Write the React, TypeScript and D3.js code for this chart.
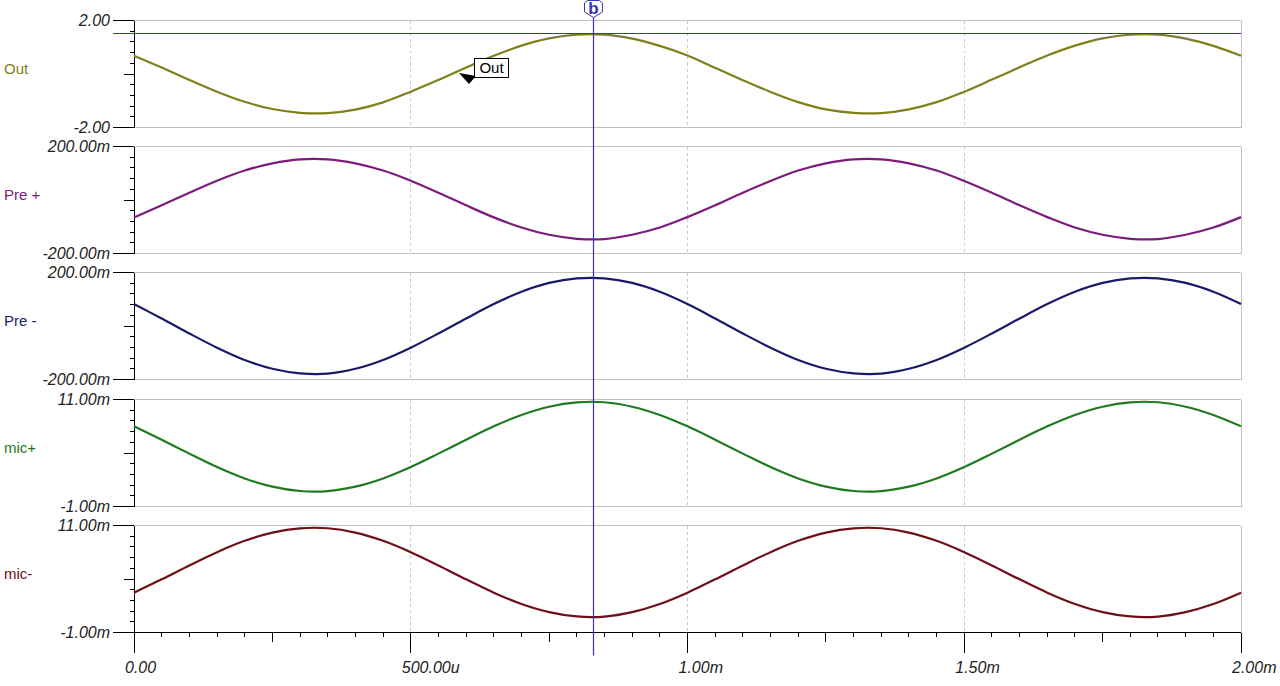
import React from 'react';
import * as d3 from 'd3';

// sample times, ms
const TIME_MS = [
  0, 0.05, 0.1, 0.15, 0.2, 0.25, 0.3, 0.35, 0.4, 0.45,
  0.5, 0.55, 0.6, 0.65, 0.7, 0.75, 0.8, 0.85, 0.9, 0.95,
  1.0, 1.05, 1.1, 1.15, 1.2, 1.25, 1.3, 1.35, 1.4, 1.45,
  1.5, 1.55, 1.6, 1.65, 1.7, 1.75, 1.8, 1.85, 1.9, 1.95, 2.0,
];

// volts
const OUT = [
  0.68, 0.24, -0.22, -0.66, -1.04, -1.31, -1.45, -1.46, -1.33, -1.06,
  -0.66, -0.22, 0.24, 0.68, 1.06, 1.33, 1.47, 1.47, 1.32, 1.05,
  0.69, 0.23, -0.23, -0.67, -1.05, -1.32, -1.45, -1.46, -1.32, -1.05,
  -0.66, -0.21, 0.25, 0.69, 1.06, 1.33, 1.47, 1.47, 1.32, 1.05, 0.68,
];

const PRE_PLUS = [
  -0.065, -0.020, 0.027, 0.072, 0.110, 0.137, 0.152, 0.152, 0.137, 0.110,
  0.072, 0.027, -0.020, -0.065, -0.103, -0.130, -0.145, -0.146, -0.130, -0.103,
  -0.064, -0.020, 0.027, 0.071, 0.110, 0.137, 0.152, 0.152, 0.137, 0.110,
  0.071, 0.027, -0.020, -0.064, -0.103, -0.130, -0.145, -0.146, -0.130, -0.103, -0.064,
];

const PRE_MINUS = [
  0.082, 0.028, -0.028, -0.081, -0.127, -0.160, -0.177, -0.178, -0.160, -0.127,
  -0.081, -0.028, 0.028, 0.082, 0.128, 0.161, 0.178, 0.178, 0.161, 0.128,
  0.082, 0.028, -0.028, -0.081, -0.127, -0.160, -0.177, -0.178, -0.160, -0.127,
  -0.081, -0.028, 0.028, 0.082, 0.128, 0.161, 0.178, 0.178, 0.161, 0.128, 0.082,
];

const MIC_PLUS = [
  0.00799, 0.00649, 0.00493, 0.00343, 0.00215, 0.00123, 0.00074, 0.00073, 0.00123, 0.00215,
  0.00343, 0.00493, 0.00649, 0.00799, 0.00927, 0.01019, 0.01068, 0.01069, 0.01019, 0.00927,
  0.00799, 0.00649, 0.00493, 0.00343, 0.00215, 0.00123, 0.00074, 0.00073, 0.00123, 0.00215,
  0.00343, 0.00493, 0.00649, 0.00799, 0.00927, 0.01019, 0.01068, 0.01069, 0.01019, 0.00927, 0.00799,
];

const MIC_MINUS = [
  0.00347, 0.00496, 0.00652, 0.00801, 0.00928, 0.01020, 0.01068, 0.01069, 0.01020, 0.00928,
  0.00801, 0.00652, 0.00496, 0.00347, 0.00220, 0.00129, 0.00080, 0.00079, 0.00129, 0.00220,
  0.00347, 0.00496, 0.00652, 0.00801, 0.00928, 0.01020, 0.01068, 0.01069, 0.01020, 0.00928,
  0.00801, 0.00652, 0.00496, 0.00347, 0.00220, 0.00129, 0.00080, 0.00079, 0.00129, 0.00220, 0.00347,
];

const PANEL_NAMES = ['Out', 'Pre +', 'Pre -', 'mic+', 'mic-'];
const PANEL_DOMAINS: [number, number][] = [[-2, 2], [-0.2, 0.2], [-0.2, 0.2], [-0.001, 0.011], [-0.001, 0.011]];
const PANEL_TICK_LABELS: [string, string][] = [
  ['2.00', '-2.00'],
  ['200.00m', '-200.00m'],
  ['200.00m', '-200.00m'],
  ['11.00m', '-1.00m'],
  ['11.00m', '-1.00m'],
];
const PANEL_SERIES = [OUT, PRE_PLUS, PRE_MINUS, MIC_PLUS, MIC_MINUS];

const X_TICK_VALUES = [0, 0.5, 1.0, 1.5, 2.0];
const X_TICK_LABELS = ['0.00', '500.00u', '1.00m', '1.50m', '2.00m'];

const CURSOR_TIME = 0.829; // ms
const CURSOR_LEVEL = 1.49; // V on Out

const COLORS = ['#80801a', '#7d1a7d', '#1a1a6b', '#1e7b1e', '#6e1018'];
const CURSOR_COLOR = '#3535b8';
const FRAME = '#c0c0c0';
const FONT = '"Liberation Sans", Arial, sans-serif';

const W = 1280;
const H = 686;
const LEFT = 134;
const RIGHT = 1241;
const PANEL_TOP = 19.5;
const PANEL_H = 107;
const PANEL_STEP = 126.4;

const App: React.FC = () => {
  const x = d3.scaleLinear().domain([0, 2]).range([LEFT, RIGHT]);
  const gridTimes = [0.5, 1.0, 1.5];
  const minorTimes = d3.range(0, 2.0001, 0.05);

  const panels = PANEL_NAMES.map((name, i) => {
    const top = Math.round(PANEL_TOP + i * PANEL_STEP) + 0.5;
    const y = d3.scaleLinear().domain(PANEL_DOMAINS[i]).range([top + PANEL_H, top]);
    const line = d3.line<number>()
      .x((_, j) => x(TIME_MS[j]))
      .y(d => y(d))
      .curve(d3.curveCatmullRom);
    return { name, top, y, path: line(PANEL_SERIES[i]) || '', color: COLORS[i], labels: PANEL_TICK_LABELS[i], domain: PANEL_DOMAINS[i] };
  });

  const lastBottom = panels[4].top + PANEL_H;
  const cx = Math.round(x(CURSOR_TIME)) + 0.5;
  const cy = Math.round(panels[0].y(CURSOR_LEVEL)) - 0.5;

  return (
    <div style={{ position: 'absolute', left: 0, top: 0, width: W, height: H, background: '#fff' }}>
      <svg width={W} height={H} style={{ display: 'block' }}>
        <rect width={W} height={H} fill="#fff" />
        {panels.map((p, i) => {
          const [lo, hi] = p.domain;
          const ticks = d3.range(11).map(k => lo + (k * (hi - lo)) / 10);
          return (
            <g key={p.name}>
              {/* frame */}
              <g shapeRendering="crispEdges">
                <line x1={LEFT} x2={RIGHT} y1={p.top} y2={p.top} stroke={FRAME} />
                <line x1={RIGHT} x2={RIGHT} y1={p.top} y2={p.top + PANEL_H} stroke={FRAME} />
                {i < 4 && <line x1={LEFT} x2={RIGHT} y1={p.top + PANEL_H} y2={p.top + PANEL_H} stroke={FRAME} />}
                {gridTimes.map(t => (
                  <line key={t} x1={x(t)} x2={x(t)} y1={p.top} y2={p.top + PANEL_H}
                    stroke="#c8c8c8" strokeDasharray="3,3" />
                ))}
                {/* y axis */}
                <line x1={LEFT} x2={LEFT} y1={p.top} y2={p.top + PANEL_H} stroke="#000" />
                {ticks.map((v, k) => {
                  const len = k === 0 || k === 10 ? 21 : k === 5 ? 10 : 4;
                  return <line key={k} x1={LEFT - len} x2={LEFT} y1={p.y(v)} y2={p.y(v)} stroke="#000" />;
                })}
              </g>
              <text x={110} y={p.y(hi)} dy="0.35em" textAnchor="end" fontFamily={FONT}
                fontStyle="italic" fontSize={16} fill="#222">{p.labels[0]}</text>
              <text x={110} y={p.y(lo)} dy="0.35em" textAnchor="end" fontFamily={FONT}
                fontStyle="italic" fontSize={16} fill="#222">{p.labels[1]}</text>
              <text x={4} y={p.top + PANEL_H / 2 - 5} dy="0.35em" fontFamily={FONT}
                fontSize={15} fill={p.color}>{p.name}</text>
              <path d={p.path} fill="none" stroke={p.color} strokeWidth={2.2} />
            </g>
          );
        })}

        {/* x axis */}
        <g shapeRendering="crispEdges">
          <line x1={LEFT} x2={RIGHT} y1={lastBottom} y2={lastBottom} stroke="#000" />
          {minorTimes.map((t, k) => {
            const len = k % 10 === 0 ? 20 : k % 5 === 0 ? 9 : 4;
            return <line key={k} x1={x(t)} x2={x(t)} y1={lastBottom} y2={lastBottom + len} stroke="#000" />;
          })}
        </g>
        {X_TICK_VALUES.map((t, k) => (
          <text key={t} x={x(t) - 9} y={673} fontFamily={FONT} fontStyle="italic"
            fontSize={16} fill="#222">{X_TICK_LABELS[k]}</text>
        ))}

        {/* cursor */}
        <line x1={113} x2={RIGHT} y1={cy} y2={cy} stroke={CURSOR_COLOR} strokeWidth={1.2} />
        <line x1={cx} x2={cx} y1={17} y2={lastBottom + 23} stroke={CURSOR_COLOR} strokeWidth={1.2} />
        <path d={`M${cx - 9},3 L${cx - 6},0.5 L${cx + 6},0.5 L${cx + 9},3 L${cx + 9},12 L${cx},17.5 L${cx - 9},12 Z`}
          fill="#fff" stroke={CURSOR_COLOR} />
        <text x={cx} y={14} textAnchor="middle" fontFamily={FONT} fontWeight="bold"
          fontSize={17} fill={CURSOR_COLOR}>b</text>

        {/* Out annotation */}
        <path d="M459,73 L476,76 L469,84 Z" fill="#000" />
        <rect x={474.5} y={58.5} width={34} height={19} fill="#fff" stroke="#000" />
        <text x={491.5} y={73} textAnchor="middle" fontFamily={FONT} fontSize={15} fill="#000">Out</text>
      </svg>
    </div>
  );
};

export default App;
